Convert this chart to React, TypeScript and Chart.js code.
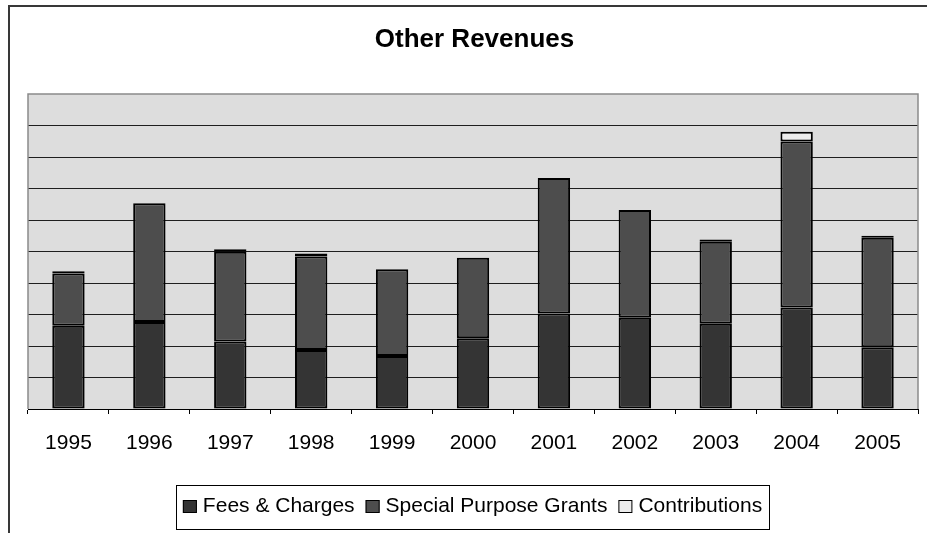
import React, { useEffect, useRef } from "react";
import { Chart, registerables } from "chart.js";

Chart.register(...registerables);

const categories = ["1995", "1996", "1997", "1998", "1999", "2000", "2001", "2002", "2003", "2004", "2005"];
const feesCharges = [2.64, 2.76, 2.14, 1.87, 1.68, 2.25, 3.03, 2.9, 2.71, 3.22, 1.96];
const specialPurposeGrants = [1.66, 3.77, 2.85, 2.97, 2.76, 2.55, 4.3, 3.42, 2.6, 5.27, 3.48];
const contributions = [0.07, null, 0.08, 0.1, null, null, null, null, 0.07, 0.31, 0.06];
const seriesNames = ["Fees & Charges", "Special Purpose Grants", "Contributions"];
const yMin = 0;
const yMax = 10;
const yStep = 1;
const titleText = "Other Revenues";

const FONT = '"Liberation Sans", Arial, sans-serif';
const COLORS = ["#343434", "#4d4d4d", "#ececec"];

const decor = {
  id: "decor",
  beforeDraw(chart: any) {
    const { ctx, chartArea: a, width, height } = chart;
    ctx.save();
    ctx.fillStyle = "#ffffff";
    ctx.fillRect(0, 0, width, height);
    ctx.fillStyle = "#dddddd";
    ctx.fillRect(a.left, a.top, a.right - a.left, a.bottom - a.top);
    ctx.restore();
  },
  beforeDatasetsDraw(chart: any) {
    const { ctx, chartArea: a } = chart;
    ctx.save();
    ctx.strokeStyle = "#8a8a8a";
    ctx.lineWidth = 1.5;
    ctx.beginPath();
    ctx.moveTo(a.left, a.bottom);
    ctx.lineTo(a.left, a.top);
    ctx.lineTo(a.right, a.top);
    ctx.lineTo(a.right, a.bottom);
    ctx.stroke();
    ctx.restore();
  },
  afterDraw(chart: any) {
    const { ctx, width, height } = chart;
    ctx.save();
    // outer frame
    ctx.strokeStyle = "#383838";
    ctx.lineWidth = 2;
    ctx.beginPath();
    ctx.moveTo(9, height + 2);
    ctx.lineTo(9, 6);
    ctx.lineTo(width + 2, 6);
    ctx.stroke();

    // title
    ctx.fillStyle = "#000";
    ctx.font = `bold 26px ${FONT}`;
    ctx.textAlign = "center";
    ctx.textBaseline = "alphabetic";
    ctx.fillText(titleText, 474.5, 47);

    // legend
    ctx.font = `21px ${FONT}`;
    ctx.textAlign = "left";
    const sq = 14;
    const gapBoxText = 6;
    const gapItems = 11;
    const widths = seriesNames.map((n) => ctx.measureText(n).width);
    let total = 0;
    widths.forEach((w, i) => {
      total += sq + gapBoxText + w + (i < widths.length - 1 ? gapItems : 0);
    });
    const center = 472.5;
    let x = center - total / 2;
    const boxLeft = x - 7;
    const boxRight = x + total + 7;
    ctx.strokeStyle = "#000";
    ctx.lineWidth = 1;
    ctx.strokeRect(Math.round(boxLeft) + 0.5, 485.5, Math.round(boxRight - boxLeft), 44);
    const baseline = 512;
    seriesNames.forEach((n, i) => {
      ctx.fillStyle = COLORS[i];
      ctx.fillRect(x, 500, sq, sq - 1);
      ctx.strokeStyle = "#000";
      ctx.lineWidth = 1;
      ctx.strokeRect(x + 0.5, 500.5, sq - 1, sq - 2);
      ctx.fillStyle = "#000";
      ctx.fillText(n, x + sq + gapBoxText, baseline);
      x += sq + gapBoxText + widths[i] + gapItems;
    });
    ctx.restore();
  },
};

export default function App() {
  const ref = useRef<HTMLCanvasElement | null>(null);
  useEffect(() => {
    if (!ref.current) return;
    const data = [feesCharges, specialPurposeGrants, contributions];
    const chart = new Chart(ref.current, {
      type: "bar",
      data: {
        labels: categories,
        datasets: seriesNames.map((name, i) => ({
          label: name,
          data: data[i] as any,
          backgroundColor: COLORS[i],
          borderColor: "#000",
          borderWidth: 2,
          borderSkipped: false,
          barPercentage: 0.4,
          categoryPercentage: 1,
        })),
      },
      options: {
        animation: false,
        responsive: false,
        devicePixelRatio: 1,
        layout: { padding: { left: 28, right: 9, top: 94, bottom: 0 } },
        plugins: {
          legend: { display: false },
          title: { display: false },
          tooltip: { enabled: false },
        },
        scales: {
          x: {
            stacked: true,
            offset: true,
            grid: {
              display: true,
              offset: true,
              drawOnChartArea: false,
              drawTicks: true,
              tickLength: 5,
              color: "#000",
            },
            border: { display: true, color: "#000", width: 1 },
            ticks: {
              color: "#000",
              font: { family: FONT, size: 21 },
              padding: 17,
              maxRotation: 0,
              autoSkip: false,
            },
            afterFit(scale: any) {
              scale.height = 124;
            },
          },
          y: {
            stacked: true,
            min: yMin,
            max: yMax,
            ticks: { display: false, stepSize: yStep },
            grid: {
              drawTicks: false,
              color: (c: any) => (c.tick && c.tick.value === yMax ? "rgba(0,0,0,0)" : "#1e1e1e"),
              lineWidth: 1,
            },
            border: { display: false },
            afterFit(scale: any) {
              scale.width = 0;
            },
          },
        },
      },
      plugins: [decor],
    });
    return () => chart.destroy();
  }, []);
  return (
    <div style={{ position: "fixed", left: 0, top: 0, width: 927, height: 533, background: "#fff" }}>
      <canvas ref={ref} width={927} height={533} style={{ display: "block" }} />
    </div>
  );
}
